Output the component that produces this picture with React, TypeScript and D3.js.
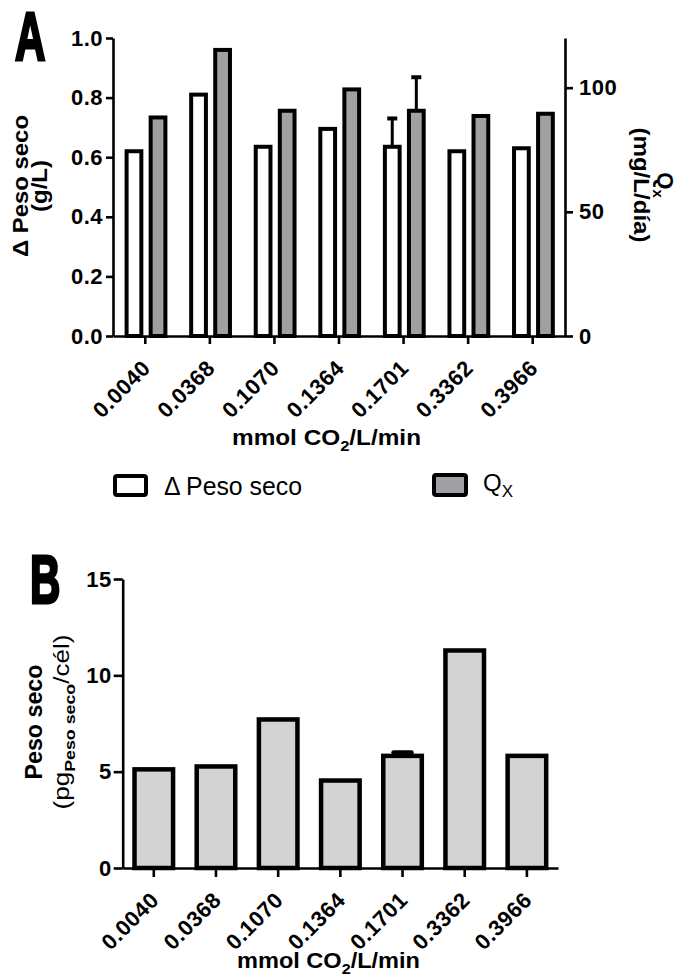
import React, { useEffect, useRef } from 'react';
import * as d3 from 'd3';

const categories = ['0.0040', '0.0368', '0.1070', '0.1364', '0.1701', '0.3362', '0.3966'];

// panel A
const pesoSeco = [0.62, 0.81, 0.635, 0.695, 0.635, 0.62, 0.63];
const pesoSecoErr = [0, 0, 0, 0, 0.095, 0, 0];
const qx = [88, 115.2, 90.7, 99.3, 90.7, 88.6, 89.5];
const qxErr = [0, 0, 0, 0, 13.5, 0, 0];
const leftTicksA = [0, 0.2, 0.4, 0.6, 0.8, 1.0];
const rightTicksA = [0, 50, 100];

// panel B
const pesoCel = [5.12, 5.27, 7.71, 4.54, 5.82, 11.29, 5.82];
const pesoCelErr = [0, 0, 0, 0, 0.17, 0, 0];
const ticksB = [0, 5, 10, 15];

const FONT = '"Liberation Sans", Arial, Helvetica, sans-serif';

const styleAxis = (g: any, size = 22) => {
  g.attr('font-family', null).attr('font-size', null);
  g.select('.domain').attr('stroke', '#000').attr('stroke-width', 2.6);
  g.selectAll('.tick line').attr('stroke', '#000').attr('stroke-width', 2.6);
  g.selectAll('.tick text')
    .attr('fill', '#000')
    .style('font-family', FONT)
    .style('font-size', `${size}px`)
    .style('letter-spacing', '0.5px')
    .style('font-weight', 'bold');
};

const rotateLabels = (g: any) => {
  g.selectAll('.tick text')
    .attr('x', 0)
    .attr('y', 0)
    .attr('dy', '0.35em')
    .attr('text-anchor', 'end')
    .attr('transform', 'translate(1,28) rotate(-45)');
};

const App = () => {
  const svgRef = useRef<SVGSVGElement>(null);

  useEffect(() => {
    const svg = d3.select(svgRef.current);
    svg.selectAll('*').remove();
    svg.attr('width', 691).attr('height', 980).style('font-family', FONT);

    // ---------- Panel A ----------
    const xA = d3.scaleBand<string>().domain(categories).range([113, 565]);
    const xSub = d3.scaleBand<string>().domain(['peso', 'qx']).range([13.6, 52.4]).paddingInner(0.387);
    const yL = d3.scaleLinear().domain([0, 1]).range([336, 38]);
    const yR = d3.scaleLinear().domain([0, 120]).range([336, 38]);

    const gA = svg.append('g');

    // error bars (behind bars)
    categories.forEach((c, i) => {
      if (pesoSecoErr[i] > 0) {
        const cx = xA(c)! + xSub('peso')! + xSub.bandwidth() / 2;
        gA.append('line').attr('x1', cx).attr('x2', cx)
          .attr('y1', yL(pesoSeco[i])).attr('y2', yL(pesoSeco[i] + pesoSecoErr[i]))
          .attr('stroke', '#000').attr('stroke-width', 3);
        gA.append('line').attr('x1', cx - 5).attr('x2', cx + 5)
          .attr('y1', yL(pesoSeco[i] + pesoSecoErr[i])).attr('y2', yL(pesoSeco[i] + pesoSecoErr[i]))
          .attr('stroke', '#000').attr('stroke-width', 4);
      }
      if (qxErr[i] > 0) {
        const cx = xA(c)! + xSub('qx')! + xSub.bandwidth() / 2;
        gA.append('line').attr('x1', cx).attr('x2', cx)
          .attr('y1', yR(qx[i])).attr('y2', yR(qx[i] + qxErr[i]))
          .attr('stroke', '#000').attr('stroke-width', 3);
        gA.append('line').attr('x1', cx - 5).attr('x2', cx + 5)
          .attr('y1', yR(qx[i] + qxErr[i])).attr('y2', yR(qx[i] + qxErr[i]))
          .attr('stroke', '#000').attr('stroke-width', 4);
      }
    });

    gA.selectAll('.bar-peso')
      .data(pesoSeco)
      .enter()
      .append('rect')
      .attr('x', (d, i) => xA(categories[i])! + xSub('peso')!)
      .attr('y', d => yL(d))
      .attr('width', xSub.bandwidth())
      .attr('height', d => yL(0) - yL(d))
      .attr('fill', '#fff')
      .attr('stroke', '#000')
      .attr('stroke-width', 4);

    gA.selectAll('.bar-qx')
      .data(qx)
      .enter()
      .append('rect')
      .attr('x', (d, i) => xA(categories[i])! + xSub('qx')!)
      .attr('y', d => yR(d))
      .attr('width', xSub.bandwidth())
      .attr('height', d => yR(0) - yR(d))
      .attr('fill', '#a09fa4')
      .attr('stroke', '#000')
      .attr('stroke-width', 4);

    const axLeftA = gA.append('g').attr('transform', 'translate(113,0)')
      .call(d3.axisLeft(yL).tickValues(leftTicksA).tickFormat(d3.format('.1f')).tickSize(7).tickSizeOuter(0).tickPadding(3));
    styleAxis(axLeftA);

    const axRightA = gA.append('g').attr('transform', 'translate(565,0)')
      .call(d3.axisRight(yR).tickValues(rightTicksA).tickSize(8).tickSizeOuter(0).tickPadding(6));
    styleAxis(axRightA);

    const axBottomA = gA.append('g').attr('transform', 'translate(0,336)')
      .call(d3.axisBottom(xA).tickSize(8).tickSizeOuter(0));
    styleAxis(axBottomA);
    rotateLabels(axBottomA);

    // axis titles A
    const bold = (sel: any, size: number) =>
      sel.attr('fill', '#000').style('font-weight', 'bold').style('font-size', `${size}px`);

    bold(gA.append('text').attr('transform', 'translate(28,186) rotate(-90)').attr('text-anchor', 'middle')
      .attr('textLength', 142).attr('lengthAdjust', 'spacingAndGlyphs').text('Δ Peso seco'), 22);
    bold(gA.append('text').attr('transform', 'translate(47,186) rotate(-90)').attr('text-anchor', 'middle')
      .attr('textLength', 52).attr('lengthAdjust', 'spacingAndGlyphs').text('(g/L)'), 22);

    const qTitle = bold(gA.append('text').attr('transform', 'translate(658,185) rotate(90)').attr('text-anchor', 'middle'), 22);
    qTitle.append('tspan').text('Q');
    qTitle.append('tspan').attr('dy', 5).style('font-size', '15px').text('x');
    bold(gA.append('text').attr('transform', 'translate(634,185) rotate(90)').attr('text-anchor', 'middle')
      .attr('textLength', 115).attr('lengthAdjust', 'spacingAndGlyphs').text('(mg/L/día)'), 22);

    const xTitleA = bold(gA.append('text').attr('x', 232).attr('y', 445)
      .attr('textLength', 189).attr('lengthAdjust', 'spacingAndGlyphs'), 22);
    xTitleA.append('tspan').text('mmol CO');
    xTitleA.append('tspan').attr('dy', 6).style('font-size', '15px').text('2');
    xTitleA.append('tspan').attr('dy', -6).text('/L/min');

    // panel letter A
    gA.append('text').attr('transform', 'translate(15,60) scale(0.62,1)')
      .attr('fill', '#000').attr('stroke', '#000').attr('stroke-width', 3)
      .style('font-size', '68px').style('font-weight', 'bold').text('A');

    // legend
    const leg = svg.append('g');
    leg.append('rect').attr('x', 115).attr('y', 476).attr('width', 31).attr('height', 19).attr('rx', 2)
      .attr('fill', '#fff').attr('stroke', '#000').attr('stroke-width', 4);
    leg.append('text').attr('x', 164).attr('y', 495).attr('textLength', 138).attr('lengthAdjust', 'spacingAndGlyphs')
      .attr('fill', '#000').style('font-size', '25px').text('Δ Peso seco');
    leg.append('rect').attr('x', 434).attr('y', 475).attr('width', 32).attr('height', 20).attr('rx', 2)
      .attr('fill', '#a09fa4').attr('stroke', '#000').attr('stroke-width', 4);
    const legQ = leg.append('text').attr('x', 483).attr('y', 491).attr('fill', '#000').style('font-size', '24px');
    legQ.append('tspan').text('Q');
    legQ.append('tspan').attr('dy', 6).style('font-size', '17px').text('X');

    // ---------- Panel B ----------
    const xB = d3.scaleBand<string>().domain(categories).range([122.7, 558]).paddingInner(0.38).paddingOuter(0.19);
    const yB = d3.scaleLinear().domain([0, 15]).range([868, 579]);
    const gB = svg.append('g');

    categories.forEach((c, i) => {
      if (pesoCelErr[i] > 0) {
        const cx = xB(c)! + xB.bandwidth() / 2;
        const yt = yB(pesoCel[i] + pesoCelErr[i]);
        gB.append('line').attr('x1', cx).attr('x2', cx).attr('y1', yB(pesoCel[i])).attr('y2', yt)
          .attr('stroke', '#000').attr('stroke-width', 3);
        gB.append('line').attr('x1', cx - 9).attr('x2', cx + 9).attr('y1', yt).attr('y2', yt)
          .attr('stroke', '#000').attr('stroke-width', 4.5).attr('stroke-linecap', 'round');
      }
    });

    gB.selectAll('.bar-b')
      .data(pesoCel)
      .enter()
      .append('rect')
      .attr('x', (d, i) => xB(categories[i])!)
      .attr('y', d => yB(d))
      .attr('width', xB.bandwidth())
      .attr('height', d => yB(0) - yB(d))
      .attr('fill', '#d3d3d3')
      .attr('stroke', '#000')
      .attr('stroke-width', 4.5);

    const axLeftB = gB.append('g').attr('transform', 'translate(122.7,0)')
      .call(d3.axisLeft(yB).tickValues(ticksB).tickSize(9).tickSizeOuter(0).tickPadding(2));
    styleAxis(axLeftB);

    const axBottomB = gB.append('g').attr('transform', 'translate(0,868)')
      .call(d3.axisBottom(xB).tickSize(9).tickSizeOuter(0));
    styleAxis(axBottomB);
    rotateLabels(axBottomB);

    bold(gB.append('text').attr('transform', 'translate(42,722) rotate(-90)').attr('text-anchor', 'middle')
      .attr('textLength', 115).attr('lengthAdjust', 'spacingAndGlyphs').text('Peso seco'), 23);
    const yTitleB = gB.append('text').attr('transform', 'translate(69,722) rotate(-90)').attr('text-anchor', 'middle')
      .attr('fill', '#000').style('font-size', '22px')
      .attr('textLength', 175).attr('lengthAdjust', 'spacingAndGlyphs');
    yTitleB.append('tspan').text('(pg');
    yTitleB.append('tspan').attr('dy', 6).style('font-size', '15px').style('font-weight', 'bold').text('Peso seco');
    yTitleB.append('tspan').attr('dy', -6).text('/cél)');

    const xTitleB = bold(gB.append('text').attr('x', 237).attr('y', 968)
      .attr('textLength', 183).attr('lengthAdjust', 'spacingAndGlyphs'), 22);
    xTitleB.append('tspan').text('mmol CO');
    xTitleB.append('tspan').attr('dy', 6).style('font-size', '15px').text('2');
    xTitleB.append('tspan').attr('dy', -6).text('/L/min');

    gB.append('text').attr('transform', 'translate(30,603) scale(0.62,1)')
      .attr('fill', '#000').attr('stroke', '#000').attr('stroke-width', 3)
      .style('font-size', '68px').style('font-weight', 'bold').text('B');
  }, []);

  return <svg ref={svgRef} style={{ display: 'block', position: 'absolute', left: 0, top: 0 }}></svg>;
};

export default App;
